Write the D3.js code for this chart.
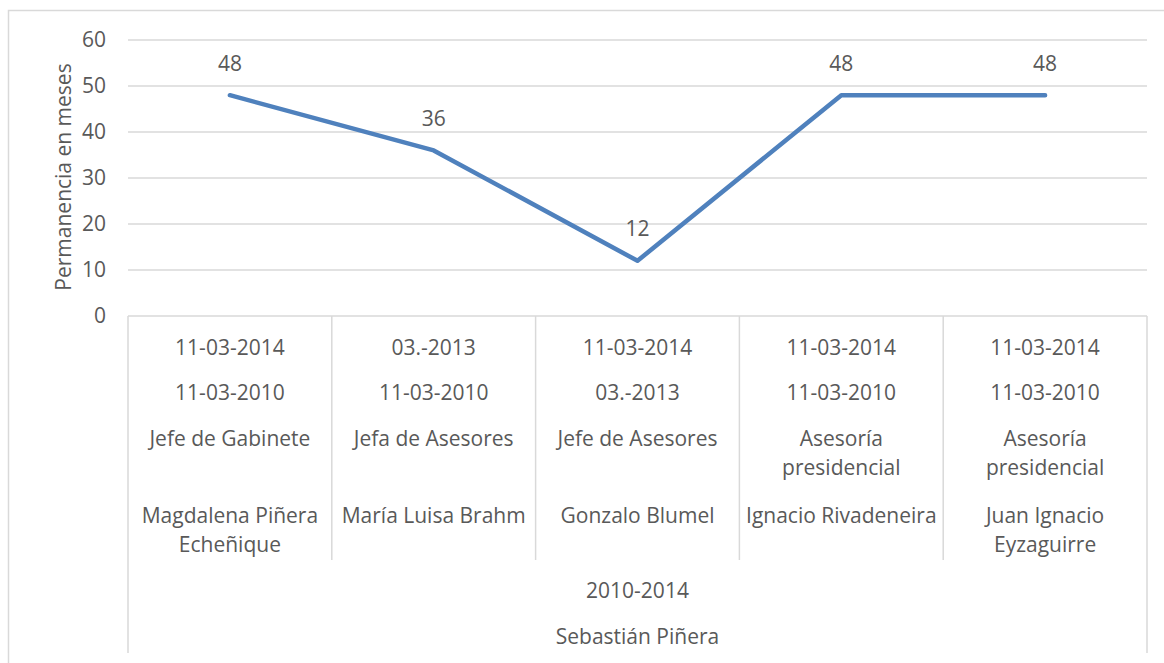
<!DOCTYPE html>
<html lang="es">
<head>
<meta charset="utf-8">
<title>Permanencia en meses</title>
<script src="https://cdn.jsdelivr.net/npm/d3@7"></script>
<style>
  body { margin: 0; background: #fff; }
  text { font-family: "Open Sans", sans-serif; fill: #595959; }
</style>
</head>
<body>
<script>
// data
var values = [48, 36, 12, 48, 48];
var endDates = ["11-03-2014", "03.-2013", "11-03-2014", "11-03-2014", "11-03-2014"];
var startDates = ["11-03-2010", "11-03-2010", "03.-2013", "11-03-2010", "11-03-2010"];
var roles = [["Jefe de Gabinete"], ["Jefa de Asesores"], ["Jefe de Asesores"],
             ["Asesoría", "presidencial"], ["Asesoría", "presidencial"]];
var names = [["Magdalena Piñera", "Echeñique"], ["María Luisa Brahm"], ["Gonzalo Blumel"],
             ["Ignacio Rivadeneira"], ["Juan Ignacio", "Eyzaguirre"]];
var period = "2010-2014";
var president = "Sebastián Piñera";
var yTicks = [0, 10, 20, 30, 40, 50, 60];

var W = 1164, H = 663;
var plotL = 128, plotR = 1147, plotT = 40, plotB = 316;
var fs = 21;

var svg = d3.select("body").append("svg")
  .attr("width", W).attr("height", H);

// outer frame
svg.append("rect")
  .attr("x", 8.5).attr("y", 10.5)
  .attr("width", W + 10).attr("height", H + 10)
  .attr("fill", "none").attr("stroke", "#d9d9d9").attr("stroke-width", 1.5);

var x = d3.scaleBand().domain(d3.range(values.length)).range([plotL, plotR]);
var y = d3.scaleLinear().domain([0, 60]).range([plotB, plotT]);

// gridlines
svg.selectAll(".grid")
  .data(yTicks)
  .enter().append("line")
  .attr("x1", plotL).attr("x2", plotR)
  .attr("y1", function(d) { return y(d); })
  .attr("y2", function(d) { return y(d); })
  .attr("stroke", "#d9d9d9").attr("stroke-width", 1.5);

// y tick labels
svg.selectAll(".ytick")
  .data(yTicks)
  .enter().append("text")
  .attr("x", 106)
  .attr("y", function(d) { return y(d); })
  .attr("dy", "0.35em")
  .attr("text-anchor", "end")
  .attr("font-size", fs)
  .text(function(d) { return d; });

// y title
svg.append("text")
  .attr("transform", "translate(64,177) rotate(-90)")
  .attr("text-anchor", "middle")
  .attr("dy", "0.35em")
  .attr("font-size", fs)
  .text("Permanencia en meses");

// category separators
var seps = d3.range(values.length + 1);
svg.selectAll(".sep")
  .data(seps)
  .enter().append("line")
  .attr("x1", function(d) { return d < values.length ? x(d) : plotR; })
  .attr("x2", function(d) { return d < values.length ? x(d) : plotR; })
  .attr("y1", plotB)
  .attr("y2", function(d) { return (d === 0 || d === values.length) ? 653 : 560; })
  .attr("stroke", "#d9d9d9").attr("stroke-width", 1.5);

// category labels
function cx(i) { return x(i) + x.bandwidth() / 2; }

function rowLabels(data, yStart) {
  data.forEach(function(lines, i) {
    if (!Array.isArray(lines)) lines = [lines];
    var t = svg.append("text")
      .attr("text-anchor", "middle")
      .attr("font-size", fs);
    lines.forEach(function(s, k) {
      t.append("tspan")
        .attr("x", cx(i))
        .attr("y", yStart + k * 29)
        .attr("dy", "0.35em")
        .text(s);
    });
  });
}
rowLabels(endDates, 348);
rowLabels(startDates, 393);
rowLabels(roles, 439);
rowLabels(names, 516);

svg.append("text")
  .attr("x", (plotL + plotR) / 2).attr("y", 591).attr("dy", "0.35em")
  .attr("text-anchor", "middle").attr("font-size", fs)
  .text(period);
svg.append("text")
  .attr("x", (plotL + plotR) / 2).attr("y", 637).attr("dy", "0.35em")
  .attr("text-anchor", "middle").attr("font-size", fs)
  .text(president);

// line
var line = d3.line()
  .x(function(d, i) { return cx(i); })
  .y(function(d) { return y(d); });

svg.append("path")
  .datum(values)
  .attr("d", line)
  .attr("fill", "none")
  .attr("stroke", "#4f81bd")
  .attr("stroke-width", 4.5)
  .attr("stroke-linejoin", "round")
  .attr("stroke-linecap", "round");

// data labels
svg.selectAll(".dlabel")
  .data(values)
  .enter().append("text")
  .attr("x", function(d, i) { return cx(i); })
  .attr("y", function(d) { return y(d) - 32; })
  .attr("dy", "0.35em")
  .attr("text-anchor", "middle")
  .attr("font-size", fs)
  .text(function(d) { return d; });
</script>
</body>
</html>
